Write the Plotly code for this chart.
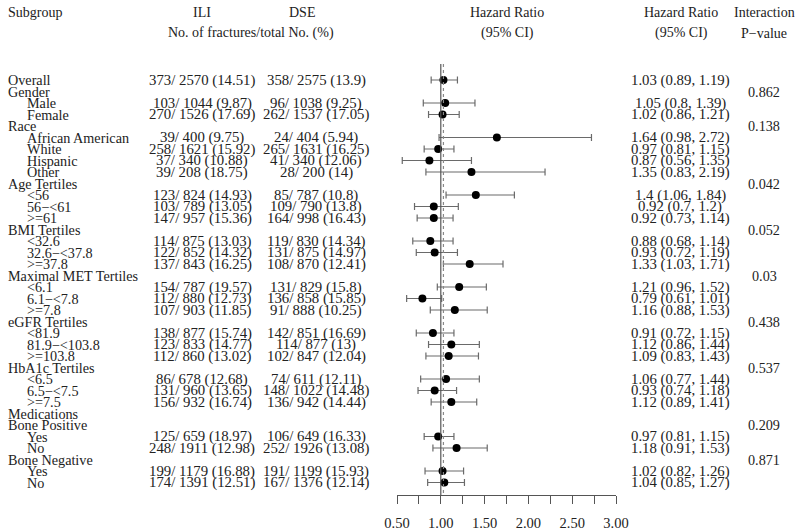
import plotly.graph_objects as go

# ---------------- data ----------------
subgroups = ["Overall", "Gender", "Male", "Female", "Race", "African American", "White",
             "Hispanic", "Other", "Age Tertiles", "<56", "56\u2212<61", ">=61", "BMI Tertiles",
             "<32.6", "32.6\u2212<37.8", ">=37.8", "Maximal MET Tertiles", "<6.1", "6.1\u2212<7.8",
             ">=7.8", "eGFR Tertiles", "<81.9", "81.9\u2212<103.8", ">=103.8", "HbA1c Tertiles",
             "<6.5", "6.5\u2212<7.5", ">=7.5", "Medications", "Bone Positive", "Yes", "No",
             "Bone Negative", "Yes", "No"]
is_header = [True, True, False, False, True, False, False, False, False, True, False, False,
             False, True, False, False, False, True, False, False, False, True, False, False,
             False, True, False, False, False, True, True, False, False, True, False, False]
ili = ["373/ 2570 (14.51)", "", "103/ 1044 (9.87)", "270/ 1526 (17.69)", "",
       "39/ 400 (9.75)", "258/ 1621 (15.92)", "37/ 340 (10.88)", "39/ 208 (18.75)", "",
       "123/ 824 (14.93)", "103/ 789 (13.05)", "147/ 957 (15.36)", "",
       "114/ 875 (13.03)", "122/ 852 (14.32)", "137/ 843 (16.25)", "",
       "154/ 787 (19.57)", "112/ 880 (12.73)", "107/ 903 (11.85)", "",
       "138/ 877 (15.74)", "123/ 833 (14.77)", "112/ 860 (13.02)", "",
       "86/ 678 (12.68)", "131/ 960 (13.65)", "156/ 932 (16.74)", "", "",
       "125/ 659 (18.97)", "248/ 1911 (12.98)", "",
       "199/ 1179 (16.88)", "174/ 1391 (12.51)"]
dse = ["358/ 2575 (13.9)", "", "96/ 1038 (9.25)", "262/ 1537 (17.05)", "",
       "24/ 404 (5.94)", "265/ 1631 (16.25)", "41/ 340 (12.06)", "28/ 200 (14)", "",
       "85/ 787 (10.8)", "109/ 790 (13.8)", "164/ 998 (16.43)", "",
       "119/ 830 (14.34)", "131/ 875 (14.97)", "108/ 870 (12.41)", "",
       "131/ 829 (15.8)", "136/ 858 (15.85)", "91/ 888 (10.25)", "",
       "142/ 851 (16.69)", "114/ 877 (13)", "102/ 847 (12.04)", "",
       "74/ 611 (12.11)", "148/ 1022 (14.48)", "136/ 942 (14.44)", "", "",
       "106/ 649 (16.33)", "252/ 1926 (13.08)", "",
       "191/ 1199 (15.93)", "167/ 1376 (12.14)"]
N = None
hr = [1.03, N, 1.05, 1.02, N, 1.64, 0.97, 0.87, 1.35, N, 1.4, 0.92, 0.92, N, 0.88, 0.93, 1.33,
      N, 1.21, 0.79, 1.16, N, 0.91, 1.12, 1.09, N, 1.06, 0.93, 1.12, N, N, 0.97, 1.18, N, 1.02, 1.04]
lo = [0.89, N, 0.8, 0.86, N, 0.98, 0.81, 0.56, 0.83, N, 1.06, 0.7, 0.73, N, 0.68, 0.72, 1.03,
      N, 0.96, 0.61, 0.88, N, 0.72, 0.86, 0.83, N, 0.77, 0.74, 0.89, N, N, 0.81, 0.91, N, 0.82, 0.85]
hi = [1.19, N, 1.39, 1.21, N, 2.72, 1.15, 1.35, 2.19, N, 1.84, 1.2, 1.14, N, 1.14, 1.19, 1.71,
      N, 1.52, 1.01, 1.53, N, 1.15, 1.44, 1.43, N, 1.44, 1.18, 1.41, N, N, 1.15, 1.53, N, 1.26, 1.27]
pvals = ["", "0.862", "", "", "0.138", "", "", "", "", "0.042", "", "", "", "0.052", "", "", "",
         "0.03", "", "", "", "0.438", "", "", "", "0.537", "", "", "", "", "0.209", "", "", "0.871", "", ""]
axis_ticks = [0.5, 0.75, 1.0, 1.25, 1.5, 1.75, 2.0, 2.25, 2.5, 2.75, 3.0]
axis_labels = ["0.50", "", "1.00", "", "1.50", "", "2.00", "", "2.50", "", "3.00"]

# ---------------- layout helpers ----------------
W, H = 800, 531
ROW0, STEP = 80.0, 11.5          # pixel of first row, row spacing


def row_of(py):
    return (py - ROW0) / STEP


FONT = "Liberation Serif"
TXT = "#222222"

rows = list(range(len(subgroups)))
pts = [i for i in rows if hr[i] is not None]

fig = go.Figure()
fig.add_trace(go.Scatter(
    x=[hr[i] for i in pts], y=pts, mode="markers",
    marker=dict(color="black", size=8),
    error_x=dict(type="data", symmetric=False,
                 array=[hi[i] - hr[i] for i in pts],
                 arrayminus=[hr[i] - lo[i] for i in pts],
                 color="#6a6a6a", thickness=1.2, width=3.5),
    showlegend=False, hoverinfo="skip"))

ann = []


def txt(x, y, s, anchor="center", size=14):
    ann.append(dict(x=x / W, y=y, xref="paper", yref="y", text=s, showarrow=False,
                    xanchor=anchor, yanchor="middle",
                    font=dict(family=FONT, size=size, color=TXT)))


for i in rows:
    txt(6 if is_header[i] else 25, i, subgroups[i], "left", 14.2)
    if ili[i]:
        txt(202, i, ili[i], size=14.8)
    if dse[i]:
        txt(316, i, dse[i], size=14.8)
    if hr[i] is not None:
        txt(680, i, f"{hr[i]:g} ({lo[i]:g}, {hi[i]:g})", size=14.8)
    if pvals[i]:
        txt(764, i, pvals[i], size=14.2)

h1, h2 = row_of(12), row_of(33)
txt(6, h1, "Subgroup", "left")
txt(202, h1, "ILI")
txt(302, h1, "DSE")
txt(251, h2, "No. of fractures/total No. (%)")
txt(507, h1, "Hazard Ratio")
txt(507, h2, "(95% CI)")
txt(681, h1, "Hazard Ratio")
txt(681, h2, "(95% CI)")
txt(764, h1, "Interaction")
txt(764, h2, "P\u2212value")

y_top, y_bot = row_of(64), row_of(495)
shapes = [
    dict(type="line", xref="x", yref="y", x0=1.0, x1=1.0, y0=y_top, y1=y_bot,
         line=dict(color="#555555", width=1.2)),
    dict(type="line", xref="x", yref="y", x0=hr[0], x1=hr[0], y0=y_top, y1=y_bot,
         line=dict(color="#888888", width=1.2, dash="dot")),
]

fig.update_layout(
    width=W, height=H, margin=dict(l=0, r=0, t=0, b=0, autoexpand=False),
    paper_bgcolor="white", plot_bgcolor="white",
    annotations=ann, shapes=shapes,
    xaxis=dict(domain=[397 / W, 616 / W], range=[0.5, 3.0], anchor="free",
               position=(H - 495) / H, showgrid=False, zeroline=False,
               showline=True, linecolor="#555555", linewidth=1.2,
               ticks="outside", ticklen=8, tickcolor="#555555", tickwidth=1.2,
               tickvals=axis_ticks, ticktext=axis_labels, ticklabelstandoff=6,
               tickfont=dict(family=FONT, size=14.5, color=TXT)),
    yaxis=dict(domain=[0, 1], range=[row_of(H), row_of(0)], visible=False,
               showgrid=False, zeroline=False),
)

fig.write_html("out.html", config={"displayModeBar": False},
               post_script="document.body.style.margin='0px';")
